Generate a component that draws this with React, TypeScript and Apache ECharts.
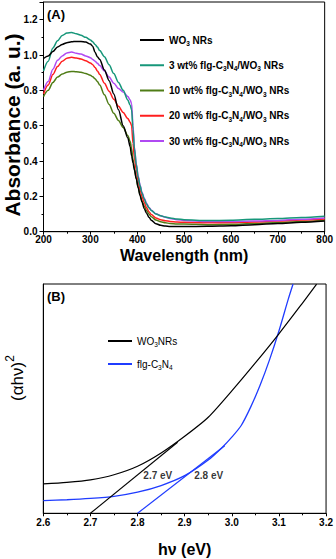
import React, { useEffect, useRef } from 'react';
import * as echarts from 'echarts';

// ---------- Panel (A): UV-vis absorbance ----------
const wavelength = [200, 210, 220, 230, 240, 250, 260, 270, 280, 290, 300, 305, 310, 315, 320, 330, 340, 350, 360, 370, 380, 385, 388, 391, 394, 398, 402, 406, 410, 415, 420, 425, 430, 440, 450, 460, 470, 485, 500, 550, 600, 650, 700, 750, 800];
const absWO3 = [0.98, 0.995, 1.02, 1.045, 1.06, 1.07, 1.075, 1.077, 1.077, 1.073, 1.062, 1.05, 1.015, 0.99, 0.975, 0.915, 0.855, 0.78, 0.69, 0.6, 0.53, 0.48, 0.43, 0.39, 0.35, 0.3, 0.25, 0.205, 0.17, 0.13, 0.105, 0.082, 0.065, 0.045, 0.036, 0.032, 0.03, 0.029, 0.029, 0.031, 0.034, 0.04, 0.046, 0.053, 0.06];
const abs3wt = [0.91, 0.965, 1.04, 1.08, 1.11, 1.125, 1.128, 1.12, 1.112, 1.1, 1.085, 1.075, 1.06, 1.045, 1.025, 0.99, 0.945, 0.895, 0.845, 0.8, 0.745, 0.715, 0.69, 0.58, 0.47, 0.38, 0.31, 0.26, 0.22, 0.185, 0.155, 0.135, 0.12, 0.1, 0.09, 0.083, 0.078, 0.072, 0.068, 0.063, 0.065, 0.07, 0.075, 0.081, 0.088];
const abs10wt = [0.765, 0.8, 0.845, 0.875, 0.892, 0.903, 0.907, 0.905, 0.903, 0.895, 0.885, 0.877, 0.865, 0.85, 0.83, 0.775, 0.72, 0.67, 0.63, 0.59, 0.545, 0.51, 0.47, 0.41, 0.36, 0.3, 0.25, 0.21, 0.175, 0.145, 0.12, 0.1, 0.085, 0.066, 0.056, 0.05, 0.047, 0.044, 0.043, 0.04, 0.042, 0.046, 0.052, 0.058, 0.065];
const abs20wt = [0.78, 0.83, 0.89, 0.935, 0.965, 0.982, 0.987, 0.983, 0.977, 0.967, 0.955, 0.945, 0.93, 0.91, 0.89, 0.84, 0.795, 0.75, 0.71, 0.675, 0.64, 0.62, 0.6, 0.5, 0.42, 0.35, 0.29, 0.24, 0.2, 0.165, 0.135, 0.113, 0.097, 0.078, 0.068, 0.062, 0.058, 0.055, 0.053, 0.05, 0.052, 0.055, 0.06, 0.066, 0.072];
const abs30wt = [0.8, 0.85, 0.92, 0.97, 0.995, 1.012, 1.017, 1.01, 1.005, 0.995, 0.985, 0.975, 0.965, 0.953, 0.94, 0.91, 0.875, 0.84, 0.81, 0.79, 0.765, 0.745, 0.725, 0.6, 0.48, 0.385, 0.315, 0.265, 0.225, 0.19, 0.16, 0.138, 0.122, 0.102, 0.09, 0.082, 0.075, 0.068, 0.064, 0.058, 0.058, 0.06, 0.064, 0.07, 0.078];

const seriesA = [
  { key: 'a10', name: '10 wt% flg-C{sub|3}N{sub|4}/WO{sub|3} NRs', values: abs10wt, color: '#4f7c16' },
  { key: 'a20', name: '20 wt% flg-C{sub|3}N{sub|4}/WO{sub|3} NRs', values: abs20wt, color: '#ff1e1e' },
  { key: 'a30', name: '30 wt% flg-C{sub|3}N{sub|4}/WO{sub|3} NRs', values: abs30wt, color: '#b04af2' },
  { key: 'a3', name: '3 wt% flg-C{sub|3}N{sub|4}/WO{sub|3} NRs', values: abs3wt, color: '#17977a' },
  { key: 'aWO3', name: 'WO{sub|3} NRs', values: absWO3, color: '#000000' },
];
const legendOrderA = ['aWO3', 'a3', 'a10', 'a20', 'a30'];

// ---------- Panel (B): Tauc plot ----------
const hvWO3 = [2.6, 2.65, 2.7, 2.75, 2.8, 2.85, 2.9, 2.95, 3.0, 3.05, 3.1, 3.15, 3.18];
const tauWO3 = [12.8, 13.5, 14.6, 16.8, 20.5, 26.3, 33.6, 41.9, 53.4, 65.6, 78.3, 91.7, 99.9];
const hvCN = [2.6, 2.65, 2.7, 2.75, 2.8, 2.85, 2.9, 2.95, 2.98, 3.0, 3.02, 3.04, 3.06, 3.08, 3.1, 3.12, 3.13];
const tauCN = [5.5, 5.9, 6.5, 7.4, 9.2, 12.1, 16.4, 23.2, 28.8, 33.2, 38.3, 46.3, 55.8, 66.9, 79.5, 93.5, 100];
const tangentWO3 = [[2.7, 0], [2.885, 31]];
const tangentCN = [[2.8, 0], [2.985, 29.5]];
const gapNames = ['2.7 eV', '2.8 eV'];
const gapPos = [[2.843, 16.3], [2.951, 16.3]];

const FONT = '"Liberation Sans", Arial, Helvetica, sans-serif';

const richSub = {
  sub: { fontSize: 6.5, fontWeight: 'bold' as const, fontFamily: FONT, color: '#000', verticalAlign: 'bottom' as const, lineHeight: 9 },
};
const richSubNormal = {
  sub: { fontSize: 6.5, fontWeight: 'normal' as const, fontFamily: FONT, color: '#000', verticalAlign: 'bottom' as const, lineHeight: 9 },
};

export default function App() {
  const ref = useRef<HTMLDivElement>(null);
  useEffect(() => {
    if (!ref.current) return;
    const chart = echarts.init(ref.current, undefined, { renderer: 'svg' });

    const legendsA = legendOrderA.map((k, i) => {
      const s = seriesA.find((x) => x.key === k)!;
      return {
        data: [k],
        left: 140,
        top: 33 + i * 25.25,
        orient: 'vertical',
        padding: 0,
        icon: 'rect',
        itemWidth: 24,
        itemHeight: 2,
        formatter: () => s.name,
        textStyle: { fontSize: 10, fontWeight: 'bold', fontFamily: FONT, color: '#000', lineHeight: 14, rich: richSub },
      };
    });
    const legendsB = [
      { k: 'bWO3', label: 'WO{sub|3}NRs', top: 334 },
      { k: 'bCN', label: 'flg-C{sub|3}N{sub|4}', top: 357 },
    ].map((l) => ({
      data: [l.k],
      left: 108,
      top: l.top,
      orient: 'vertical',
      padding: 0,
      icon: 'rect',
      itemWidth: 24,
      itemHeight: 2,
      formatter: () => l.label,
      textStyle: { fontSize: 10, fontWeight: 'normal', fontFamily: FONT, color: '#000', lineHeight: 14, rich: richSubNormal },
    }));

    const axisLabelStyle = { color: '#000', fontSize: 10, fontWeight: 'bold', fontFamily: FONT };

    const option: any = {
      animation: false,
      backgroundColor: '#fff',
      textStyle: { fontFamily: FONT },
      grid: [
        { left: 43.5, top: 2, width: 283, height: 229.7, show: true, borderColor: '#000', borderWidth: 1, backgroundColor: 'transparent' },
        { left: 43.3, top: 284, width: 283.4, height: 229.3, show: true, borderColor: '#000', borderWidth: 1, backgroundColor: 'transparent' },
      ],
      xAxis: [
        {
          type: 'value', gridIndex: 0, min: 200, max: 800, interval: 100,
          name: 'Wavelength (nm)', nameLocation: 'middle', nameGap: 16,
          nameTextStyle: { fontSize: 16, fontWeight: 'bold', color: '#000', fontFamily: FONT, verticalAlign: 'top' },
          axisLine: { show: true, lineStyle: { color: '#000', width: 1 } },
          axisTick: { show: true, length: 3, lineStyle: { color: '#000' } },
          minorTick: { show: true, splitNumber: 2, length: 2, lineStyle: { color: '#000' } },
          axisLabel: { ...axisLabelStyle, margin: 3 },
          splitLine: { show: false },
        },
        {
          type: 'value', gridIndex: 1, min: 2.6, max: 3.2, interval: 0.1,
          name: 'hν (eV)', nameLocation: 'middle', nameGap: 28,
          nameTextStyle: { fontSize: 16, fontWeight: 'bold', color: '#000', fontFamily: FONT, verticalAlign: 'top' },
          axisLine: { show: true, lineStyle: { color: '#000', width: 1 } },
          axisTick: { show: true, length: 3, lineStyle: { color: '#000' } },
          minorTick: { show: true, splitNumber: 2, length: 2, lineStyle: { color: '#000' } },
          axisLabel: { ...axisLabelStyle, margin: 4, formatter: (v: number) => v.toFixed(1) },
          splitLine: { show: false },
        },
      ],
      yAxis: [
        {
          type: 'value', gridIndex: 0, min: 0, max: 1.3, interval: 0.2,
          axisLine: { show: true, lineStyle: { color: '#000', width: 1 } },
          axisTick: { show: true, length: 4, lineStyle: { color: '#000' } },
          minorTick: { show: true, splitNumber: 2, length: 2, lineStyle: { color: '#000' } },
          axisLabel: {
            ...axisLabelStyle, margin: 6,
            formatter: (v: number) => (Math.abs(v * 5 - Math.round(v * 5)) < 1e-6 ? v.toFixed(1) : ''),
          },
          splitLine: { show: false },
        },
        {
          type: 'value', gridIndex: 1, min: 0, max: 100,
          axisLine: { show: true, lineStyle: { color: '#000', width: 1 } },
          axisTick: { show: false },
          axisLabel: { show: false },
          splitLine: { show: false },
        },
      ],
      legend: [...legendsA, ...legendsB],
      series: [
        ...seriesA.map((s) => ({
          id: s.key, name: s.key, type: 'line', xAxisIndex: 0, yAxisIndex: 0,
          data: wavelength.map((w, i) => [w, s.values[i]]),
          showSymbol: false, symbol: 'none', smooth: 0.3, smoothMonotone: 'x',
          lineStyle: { color: s.color, width: 1.5 }, itemStyle: { color: s.color },
        })),
        {
          name: 'bCN', type: 'line', xAxisIndex: 1, yAxisIndex: 1,
          data: hvCN.map((h, i) => [h, tauCN[i]]),
          showSymbol: false, symbol: 'none', smooth: 0.25,
          lineStyle: { color: '#1f3cff', width: 1.3 }, itemStyle: { color: '#1f3cff' },
        },
        {
          name: 'bWO3', type: 'line', xAxisIndex: 1, yAxisIndex: 1,
          data: hvWO3.map((h, i) => [h, tauWO3[i]]),
          showSymbol: false, symbol: 'none', smooth: 0.25,
          lineStyle: { color: '#000', width: 1.2 }, itemStyle: { color: '#000' },
        },
        {
          name: 'tanWO3', type: 'line', xAxisIndex: 1, yAxisIndex: 1, data: tangentWO3,
          showSymbol: false, symbol: 'none', lineStyle: { color: '#000', width: 1.1 },
        },
        {
          name: 'tanCN', type: 'line', xAxisIndex: 1, yAxisIndex: 1, data: tangentCN,
          showSymbol: false, symbol: 'none', lineStyle: { color: '#1f3cff', width: 1.2 },
        },
        {
          name: 'gap', type: 'scatter', xAxisIndex: 1, yAxisIndex: 1, symbolSize: 1, silent: true,
          itemStyle: { color: 'rgba(0,0,0,0)' },
          data: gapNames.map((n, i) => ({ name: n, value: gapPos[i] })),
          label: { show: true, position: 'inside', formatter: '{b}', color: '#000', fontSize: 10, fontWeight: 'bold', fontFamily: FONT },
        },
      ],
      graphic: [
        { type: 'text', left: 47, top: 8, style: { text: '(A)', font: `bold 13px ${FONT}`, fill: '#000' } },
        { type: 'text', left: 47, top: 290, style: { text: '(B)', font: `bold 13px ${FONT}`, fill: '#000' } },
        {
          type: 'text', x: 12, y: 125, rotation: Math.PI / 2,
          style: { text: 'Absorbance (a. u.)', font: `bold 21px ${FONT}`, fill: '#000', align: 'center', verticalAlign: 'middle' },
        },
        {
          type: 'text', x: 15, y: 378, rotation: Math.PI / 2,
          style: {
            text: '{a|(αhν)}{s|2}', align: 'center', verticalAlign: 'middle', fill: '#000',
            rich: {
              a: { fontSize: 17, fontFamily: FONT, fill: '#000', lineHeight: 22, verticalAlign: 'bottom' },
              s: { fontSize: 12, fontFamily: FONT, fill: '#000', lineHeight: 22, verticalAlign: 'top' },
            },
          },
        },
      ],
    };
    chart.setOption(option);
    return () => chart.dispose();
  }, []);
  return <div ref={ref} style={{ position: 'fixed', left: 0, top: 0, width: 336, height: 559 }} />;
}
